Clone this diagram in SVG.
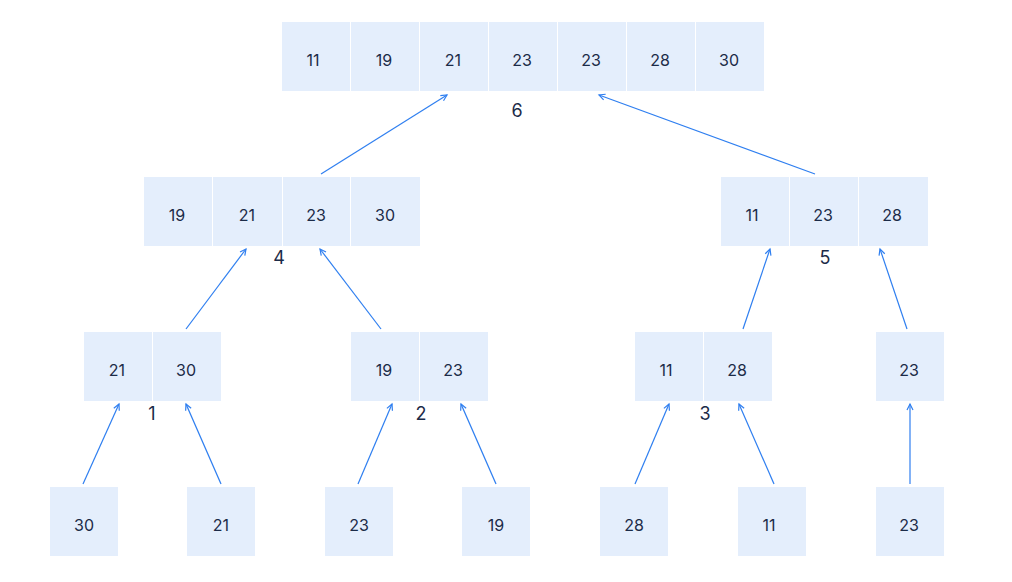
<svg xmlns="http://www.w3.org/2000/svg" width="1012" height="582" viewBox="0 0 1012 582">
<style>
.c{fill:#e4eefc}
.t{font-family:Inter,"Noto Sans",sans-serif;font-size:16px;fill:#1c2b48;text-anchor:middle;dominant-baseline:central}
.l{font-family:Inter,"Noto Sans",sans-serif;font-size:18px;fill:#1c2b48;text-anchor:middle;dominant-baseline:central}
.e{stroke:#2f7ff0;stroke-width:1.2;fill:none;marker-end:url(#ah)}
</style>
<defs>
<marker id="ah" markerUnits="userSpaceOnUse" markerWidth="10" markerHeight="10" refX="7" refY="4" orient="auto">
<path d="M1,1 L7,4 L1,7" fill="none" stroke="#2f7ff0" stroke-width="1.2"/>
</marker>
</defs>
<rect width="1012" height="582" fill="#fff"/>
<g id="connectors">
<line class="e" x1="321" y1="174" x2="447" y2="95"/>
<line class="e" x1="815" y1="174" x2="599" y2="95"/>
<line class="e" x1="186" y1="329" x2="246" y2="249"/>
<line class="e" x1="381" y1="329" x2="320" y2="249"/>
<line class="e" x1="743" y1="329" x2="770" y2="249"/>
<line class="e" x1="907" y1="329" x2="880" y2="249"/>
<line class="e" x1="83" y1="484" x2="119" y2="404"/>
<line class="e" x1="221" y1="484" x2="186" y2="404"/>
<line class="e" x1="358" y1="484" x2="392" y2="404"/>
<line class="e" x1="496" y1="484" x2="461" y2="404"/>
<line class="e" x1="635" y1="484" x2="669" y2="404"/>
<line class="e" x1="774" y1="484" x2="739" y2="404"/>
<line class="e" x1="910" y1="484" x2="910" y2="404"/>
</g>
<g id="n6">
<rect class="c" x="282" y="22" width="68" height="69"/><text class="t" x="313" y="60">11</text>
<rect class="c" x="351" y="22" width="68" height="69"/><text class="t" x="384" y="60">19</text>
<rect class="c" x="420" y="22" width="68" height="69"/><text class="t" x="453" y="60">21</text>
<rect class="c" x="489" y="22" width="68" height="69"/><text class="t" x="522" y="60">23</text>
<rect class="c" x="558" y="22" width="68" height="69"/><text class="t" x="591" y="60">23</text>
<rect class="c" x="627" y="22" width="68" height="69"/><text class="t" x="660" y="60">28</text>
<rect class="c" x="696" y="22" width="68" height="69"/><text class="t" x="729" y="60">30</text>
<text class="l" x="517" y="110">6</text>
</g>
<g id="n4">
<rect class="c" x="144" y="177" width="68" height="69"/><text class="t" x="177" y="215">19</text>
<rect class="c" x="213" y="177" width="69" height="69"/><text class="t" x="247" y="215">21</text>
<rect class="c" x="283" y="177" width="67" height="69"/><text class="t" x="316" y="215">23</text>
<rect class="c" x="351" y="177" width="69" height="69"/><text class="t" x="385" y="215">30</text>
<text class="l" x="279" y="257">4</text>
</g>
<g id="n5">
<rect class="c" x="721" y="177" width="68" height="69"/><text class="t" x="752" y="215">11</text>
<rect class="c" x="790" y="177" width="68" height="69"/><text class="t" x="823" y="215">23</text>
<rect class="c" x="859" y="177" width="69" height="69"/><text class="t" x="892" y="215">28</text>
<text class="l" x="825" y="257">5</text>
</g>
<g id="n1">
<rect class="c" x="84" y="332" width="68" height="69"/><text class="t" x="117" y="370">21</text>
<rect class="c" x="153" y="332" width="68" height="69"/><text class="t" x="186" y="370">30</text>
<text class="l" x="152" y="413">1</text>
</g>
<g id="n2">
<rect class="c" x="351" y="332" width="68" height="69"/><text class="t" x="384" y="370">19</text>
<rect class="c" x="420" y="332" width="68" height="69"/><text class="t" x="453" y="370">23</text>
<text class="l" x="421" y="413">2</text>
</g>
<g id="n3">
<rect class="c" x="635" y="332" width="68" height="69"/><text class="t" x="666" y="370">11</text>
<rect class="c" x="704" y="332" width="68" height="69"/><text class="t" x="737" y="370">28</text>
<text class="l" x="705" y="413">3</text>
</g>
<g id="n5b">
<rect class="c" x="876" y="332" width="68" height="69"/><text class="t" x="909" y="370">23</text>
</g>
<g id="leaf30"><rect class="c" x="50" y="487" width="68" height="69"/><text class="t" x="84" y="525">30</text></g>
<g id="leaf21"><rect class="c" x="187" y="487" width="68" height="69"/><text class="t" x="221" y="525">21</text></g>
<g id="leaf23a"><rect class="c" x="325" y="487" width="68" height="69"/><text class="t" x="359" y="525">23</text></g>
<g id="leaf19"><rect class="c" x="462" y="487" width="68" height="69"/><text class="t" x="496" y="525">19</text></g>
<g id="leaf28"><rect class="c" x="600" y="487" width="68" height="69"/><text class="t" x="634" y="525">28</text></g>
<g id="leaf11"><rect class="c" x="738" y="487" width="68" height="69"/><text class="t" x="769" y="525">11</text></g>
<g id="leaf23b"><rect class="c" x="876" y="487" width="68" height="69"/><text class="t" x="909" y="525">23</text></g>
</svg>
